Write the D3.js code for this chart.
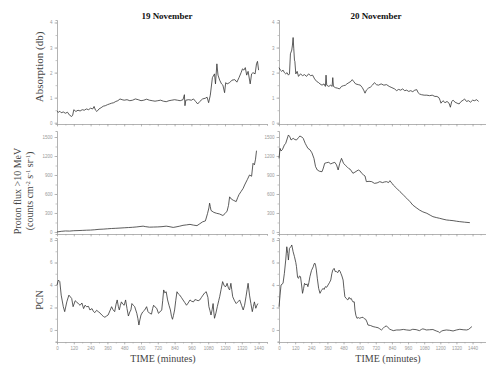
<!DOCTYPE html>
<html>
<head>
<meta charset="utf-8">
<script src="https://cdnjs.cloudflare.com/ajax/libs/d3/7.8.5/d3.min.js"></script>
<style>
  body { margin: 0; background: #fff; }
  svg text { font-family: "Liberation Serif", "Times New Roman", serif; }
  .tick text { font-family: "Liberation Sans", Arial, sans-serif; }
</style>
</head>
<body>
<svg id="chart" width="486" height="367"></svg>
<script>
// [minute, value] pairs
const absNov19 = [[0,0.45],[10,0.42],[20,0.46],[30,0.4],[45,0.43],[60,0.38],[75,0.42],[90,0.3],[105,0.25],[112,0.3],[120,0.52],[135,0.45],[150,0.5],[165,0.47],[180,0.52],[195,0.5],[210,0.55],[225,0.52],[240,0.58],[255,0.55],[265,0.65],[275,0.5],[285,0.45],[300,0.55],[315,0.6],[330,0.66],[345,0.68],[360,0.72],[375,0.75],[390,0.78],[405,0.8],[420,0.85],[435,0.88],[450,0.95],[465,0.92],[480,0.9],[500,0.92],[520,0.88],[540,0.9],[560,0.95],[580,0.92],[600,0.88],[620,0.9],[640,0.94],[660,0.9],[680,0.88],[700,0.86],[720,0.88],[740,0.9],[760,0.86],[780,0.84],[800,0.88],[820,0.9],[840,0.92],[860,0.9],[880,0.88],[900,0.92],[910,1.12],[914,0.68],[920,0.9],[940,0.92],[960,0.9],[975,0.95],[990,0.85],[1005,0.75],[1020,0.85],[1040,0.95],[1060,0.98],[1072,1.02],[1083,0.8],[1095,1.1],[1110,1.8],[1125,1.95],[1132,1.55],[1142,2.35],[1150,1.9],[1162,1.7],[1175,1.55],[1185,1.5],[1197,1.2],[1205,1.6],[1215,1.55],[1233,1.6],[1250,1.7],[1270,1.72],[1285,1.62],[1300,1.8],[1315,2.0],[1325,2.15],[1335,2.1],[1345,2.2],[1355,1.9],[1365,2.05],[1380,1.55],[1390,1.95],[1400,2.0],[1415,1.95],[1425,2.35],[1432,2.45],[1440,2.1]];

const absNov20 = [[0,2.2],[10,2.1],[20,2.05],[30,2.1],[40,2.0],[50,1.95],[60,2.0],[70,1.9],[78,1.95],[85,2.75],[95,2.9],[100,3.1],[105,3.4],[110,2.95],[115,2.5],[118,2.45],[125,1.95],[135,2.05],[145,1.85],[160,1.95],[175,1.88],[190,1.92],[205,1.85],[220,1.95],[235,1.88],[250,1.9],[265,1.75],[280,1.65],[295,1.6],[305,1.55],[320,1.5],[335,1.55],[345,1.45],[350,1.9],[355,1.5],[370,1.45],[385,1.5],[395,1.45],[400,1.8],[405,1.45],[420,1.4],[435,1.38],[450,1.35],[465,1.45],[480,1.48],[495,1.5],[505,1.55],[520,1.6],[535,1.65],[545,1.72],[555,1.65],[570,1.55],[590,1.52],[605,1.5],[620,1.4],[630,1.3],[640,1.18],[650,1.3],[665,1.38],[680,1.42],[695,1.5],[710,1.6],[725,1.52],[740,1.5],[760,1.55],[780,1.5],[800,1.52],[820,1.45],[840,1.4],[860,1.35],[875,1.28],[890,1.33],[905,1.3],[920,1.35],[935,1.28],[950,1.3],[965,1.25],[980,1.28],[995,1.24],[1010,1.3],[1025,1.32],[1035,1.2],[1045,1.15],[1060,1.12],[1080,1.1],[1100,1.1],[1120,1.08],[1140,1.1],[1160,1.05],[1175,1.05],[1190,1.0],[1198,0.9],[1205,0.78],[1220,0.88],[1235,0.8],[1250,0.85],[1265,0.78],[1275,0.62],[1285,0.85],[1295,0.9],[1310,0.82],[1325,0.78],[1340,0.75],[1355,0.85],[1370,0.9],[1380,0.95],[1395,0.85],[1410,0.88],[1425,0.82],[1440,0.9],[1455,0.88],[1470,0.92],[1485,0.85]];

const protonNov19 = [[0,0],[30,10],[60,16],[90,14],[120,20],[150,22],[180,25],[210,28],[240,30],[270,35],[300,42],[330,45],[360,50],[390,55],[420,58],[450,62],[480,66],[510,70],[540,74],[570,80],[600,88],[615,92],[630,85],[660,76],[690,78],[720,80],[750,84],[780,92],[800,85],[830,72],[850,80],[877,92],[900,105],[925,112],[950,120],[975,108],[1000,100],[1020,130],[1040,160],[1060,175],[1075,290],[1085,380],[1090,455],[1095,400],[1100,340],[1120,310],[1140,295],[1160,285],[1185,260],[1200,290],[1215,330],[1225,420],[1233,555],[1245,520],[1260,500],[1280,480],[1290,540],[1300,590],[1315,640],[1330,690],[1340,742],[1360,830],[1375,900],[1390,880],[1400,1085],[1410,1060],[1418,1150],[1425,1284]];

const protonNov20 = [[0,1163],[8,1321],[15,1280],[25,1300],[40,1374],[50,1400],[58,1453],[70,1532],[80,1505],[90,1453],[105,1479],[118,1460],[130,1453],[145,1490],[155,1516],[170,1500],[180,1479],[195,1400],[205,1360],[215,1321],[230,1300],[245,1250],[260,1163],[272,1032],[285,979],[300,960],[320,952],[330,1010],[340,1085],[355,1095],[370,1100],[385,1075],[400,1090],[415,1100],[428,1060],[440,979],[452,1085],[465,1163],[480,1085],[495,1050],[505,1032],[520,1000],[530,990],[550,927],[565,945],[590,979],[605,960],[615,927],[630,900],[640,884],[650,795],[670,800],[690,795],[710,768],[730,775],[750,795],[770,780],[785,790],[800,795],[815,780],[825,810],[840,770],[850,742],[875,690],[900,637],[925,585],[950,532],[975,478],[995,426],[1020,385],[1045,347],[1070,318],[1100,295],[1125,265],[1145,242],[1170,228],[1195,216],[1220,202],[1245,190],[1270,184],[1295,179],[1320,170],[1345,163],[1380,155],[1420,147]];

const pcnNov19 = [[0,4.0],[10,4.44],[20,4.3],[30,3.1],[45,2.07],[55,1.63],[70,2.5],[85,3.1],[105,2.8],[115,2.07],[130,2.6],[140,2.5],[155,2.3],[165,2.2],[178,2.4],[190,1.9],[200,2.2],[212,2.07],[225,2.1],[235,1.78],[250,1.9],[260,1.65],[270,1.54],[283,1.75],[295,1.63],[308,1.5],[320,1.33],[332,1.2],[342,1.13],[355,1.25],[365,1.33],[378,1.7],[390,2.07],[400,1.8],[412,1.63],[422,2.3],[430,2.67],[438,2.1],[445,1.78],[453,2.2],[460,2.5],[470,2.3],[480,2.2],[490,2.67],[500,1.9],[510,1.24],[520,1.6],[528,1.78],[535,2.35],[545,2.2],[555,2.07],[570,1.48],[578,1.0],[585,0.44],[592,0.9],[600,1.33],[612,1.6],[627,1.78],[640,2.07],[650,1.63],[660,1.5],[675,1.41],[683,1.9],[690,2.2],[700,2.05],[712,1.93],[725,1.48],[735,1.6],[748,1.78],[755,2.6],[762,3.56],[770,3.3],[780,3.4],[790,2.67],[800,2.2],[810,1.78],[818,1.2],[825,0.95],[832,1.3],[840,1.78],[848,2.6],[857,3.4],[867,3.2],[877,3.1],[888,2.9],[900,2.67],[912,2.45],[925,2.2],[937,2.4],[950,2.67],[962,2.55],[975,2.5],[985,2.7],[995,2.67],[1008,2.6],[1020,2.67],[1032,2.9],[1043,3.1],[1055,3.3],[1066,3.4],[1078,2.9],[1085,2.07],[1093,1.7],[1100,1.33],[1108,1.8],[1115,2.35],[1120,1.6],[1125,1.04],[1135,1.5],[1145,2.07],[1155,2.6],[1162,2.96],[1172,3.6],[1183,4.3],[1192,4.0],[1200,3.85],[1208,3.9],[1215,4.15],[1225,3.7],[1233,3.56],[1242,4.15],[1248,3.6],[1255,2.96],[1268,2.6],[1280,2.35],[1292,2.5],[1305,2.67],[1318,2.2],[1330,1.78],[1340,2.2],[1350,2.96],[1358,3.6],[1365,4.15],[1375,3.1],[1385,2.35],[1395,1.63],[1403,2.1],[1410,2.5],[1420,1.93],[1428,2.2],[1435,2.35]];

const pcnNov20 = [[0,2.07],[8,3.1],[15,4.0],[30,4.15],[40,5.04],[50,6.22],[58,7.4],[65,6.8],[70,6.22],[78,7.26],[88,7.4],[95,7.56],[105,6.96],[115,6.52],[125,6.0],[130,5.63],[138,4.7],[145,4.59],[152,4.8],[160,4.74],[168,4.0],[175,3.26],[183,3.7],[190,4.15],[200,4.0],[208,4.1],[215,3.85],[222,4.2],[230,4.74],[242,5.3],[255,5.63],[262,5.9],[268,5.93],[273,5.7],[278,5.33],[285,4.6],[295,3.7],[305,3.26],[315,3.5],[328,3.7],[335,3.6],[345,3.85],[355,3.8],[365,4.0],[375,4.2],[385,4.44],[393,5.0],[400,5.33],[410,5.48],[418,5.2],[428,5.19],[437,5.1],[447,5.33],[455,5.2],[460,5.04],[468,4.8],[477,4.44],[483,3.7],[490,2.96],[500,2.8],[512,2.67],[522,2.9],[530,2.75],[537,2.81],[545,2.6],[550,2.5],[560,2.5],[565,1.78],[572,1.3],[580,1.04],[590,1.1],[600,1.04],[612,1.1],[625,1.13],[635,1.0],[645,0.95],[655,0.7],[662,0.44],[680,0.4],[700,0.3],[718,0.25],[737,0.2],[750,0.1],[762,0.0],[775,0.15],[787,0.3],[800,0.36],[812,0.2],[825,0.06],[838,0.0],[850,-0.06],[875,0.0],[900,0.0],[925,0.05],[950,0.0],[975,-0.03],[995,0.06],[1020,0.03],[1045,-0.06],[1060,0.05],[1070,0.1],[1085,0.05],[1095,0.0],[1120,0.02],[1145,0.04],[1170,-0.09],[1185,-0.15],[1195,-0.24],[1210,-0.1],[1220,-0.05],[1245,0.0],[1270,-0.03],[1295,-0.09],[1320,0.0],[1345,0.06],[1370,0.02],[1395,0.0],[1410,0.05],[1420,0.15],[1435,0.3]];

const timeTicks = [0,120,240,360,480,600,720,840,960,1080,1200,1320,1440];
const timeMinor = d3.range(0, 1501, 60);
const absTicks = [0,1,2,3,4];
const absMinor = [0,0.5,1,1.5,2,2.5,3,3.5,4];
const protonTicks = [0,300,600,900,1200,1500];
const protonMinor = [0,150,300,450,600,750,900,1050,1200,1350,1500];
const pcnTicks = [0,2,4,6,8];
const pcnMinor = [-1,0,1,2,3,4,5,6,7,8];

const svg = d3.select("#chart");

// column x scales
const xLeft = d3.scaleLinear().domain([0, 1500]).range([57, 267]);
const xRight = d3.scaleLinear().domain([0, 1540]).range([279, 486]);

// row y scales
const yAbs = d3.scaleLinear().domain([-0.05, 4.1]).range([124, 20]);
const yProton = d3.scaleLinear().domain([-32, 1595]).range([234, 131]);
const yPcn = d3.scaleLinear().domain([-1.07, 8.18]).range([342, 238]);

function styleAxis(g) {
  g.selectAll(".domain").attr("stroke", "#a0a0a0").attr("stroke-width", 0.8);
  g.selectAll(".tick line").attr("stroke", "#a0a0a0").attr("stroke-width", 0.6);
  g.selectAll(".tick text").attr("fill", "#999").style("font-size", "4.5px");
}

function drawPanel(x, y, data, yTicks, yMinor, xLabels) {
  const g = svg.append("g");
  const y0 = y.range()[0];
  const x0 = x.range()[0];

  // x axis, minor then major
  g.append("g")
    .attr("transform", "translate(0," + y0 + ")")
    .call(d3.axisBottom(x).tickValues(timeMinor).tickSize(1.5).tickFormat(""))
    .call(styleAxis);
  g.append("g")
    .attr("transform", "translate(0," + y0 + ")")
    .call(d3.axisBottom(x).tickValues(timeTicks).tickSize(2.5).tickPadding(2)
      .tickFormat(xLabels ? d3.format("d") : ""))
    .call(styleAxis)
    .call(a => a.select(".domain").remove());

  // y axis, minor then major
  g.append("g")
    .attr("transform", "translate(" + x0 + ",0)")
    .call(d3.axisLeft(y).tickValues(yMinor).tickSize(1.5).tickFormat(""))
    .call(styleAxis);
  g.append("g")
    .attr("transform", "translate(" + x0 + ",0)")
    .call(d3.axisLeft(y).tickValues(yTicks).tickSize(2.5).tickPadding(2).tickFormat(d3.format("d")))
    .call(styleAxis)
    .call(a => a.select(".domain").remove());

  const line = d3.line()
    .x(d => x(d[0]))
    .y(d => y(d[1]));

  g.append("path")
    .datum(data)
    .attr("fill", "none")
    .attr("stroke", "#333")
    .attr("stroke-width", 0.8)
    .attr("stroke-linejoin", "round")
    .attr("d", line);
}

drawPanel(xLeft, yAbs, absNov19, absTicks, absMinor, false);
drawPanel(xRight, yAbs, absNov20, absTicks, absMinor, false);
drawPanel(xLeft, yProton, protonNov19, protonTicks, protonMinor, false);
drawPanel(xRight, yProton, protonNov20, protonTicks, protonMinor, false);
drawPanel(xLeft, yPcn, pcnNov19, pcnTicks, pcnMinor, true);
drawPanel(xRight, yPcn, pcnNov20, pcnTicks, pcnMinor, true);

// titles
svg.append("text").attr("x", 167).attr("y", 19).attr("text-anchor", "middle")
  .style("font-size", "9px").style("font-weight", "bold").attr("fill", "#111")
  .text("19 November");
svg.append("text").attr("x", 376).attr("y", 19).attr("text-anchor", "middle")
  .style("font-size", "9px").style("font-weight", "bold").attr("fill", "#111")
  .text("20 November");

// y labels
function yLabel(cx, cy, txt, size) {
  return svg.append("text")
    .attr("transform", "translate(" + cx + "," + cy + ") rotate(-90)")
    .attr("text-anchor", "middle")
    .style("font-size", size + "px")
    .attr("fill", "#444")
    .text(txt);
}
yLabel(43, 67, "Absorption (db)", 11);
yLabel(21, 191, "Proton flux >10 MeV", 10);
const unit = yLabel(33, 191, "", 10);
unit.append("tspan").text("(counts cm");
unit.append("tspan").attr("dy", -3).style("font-size", "6px").text("-2");
unit.append("tspan").attr("dy", 3).text(" s");
unit.append("tspan").attr("dy", -3).style("font-size", "6px").text("-1");
unit.append("tspan").attr("dy", 3).text(" sr");
unit.append("tspan").attr("dy", -3).style("font-size", "6px").text("-1");
unit.append("tspan").attr("dy", 3).text(")");
yLabel(43, 300, "PCN", 10);

// x labels
svg.append("text").attr("x", 163).attr("y", 362).attr("text-anchor", "middle")
  .style("font-size", "10px").attr("fill", "#444").text("TIME (minutes)");
svg.append("text").attr("x", 388).attr("y", 362).attr("text-anchor", "middle")
  .style("font-size", "10px").attr("fill", "#444").text("TIME (minutes)");
</script>
</body>
</html>
